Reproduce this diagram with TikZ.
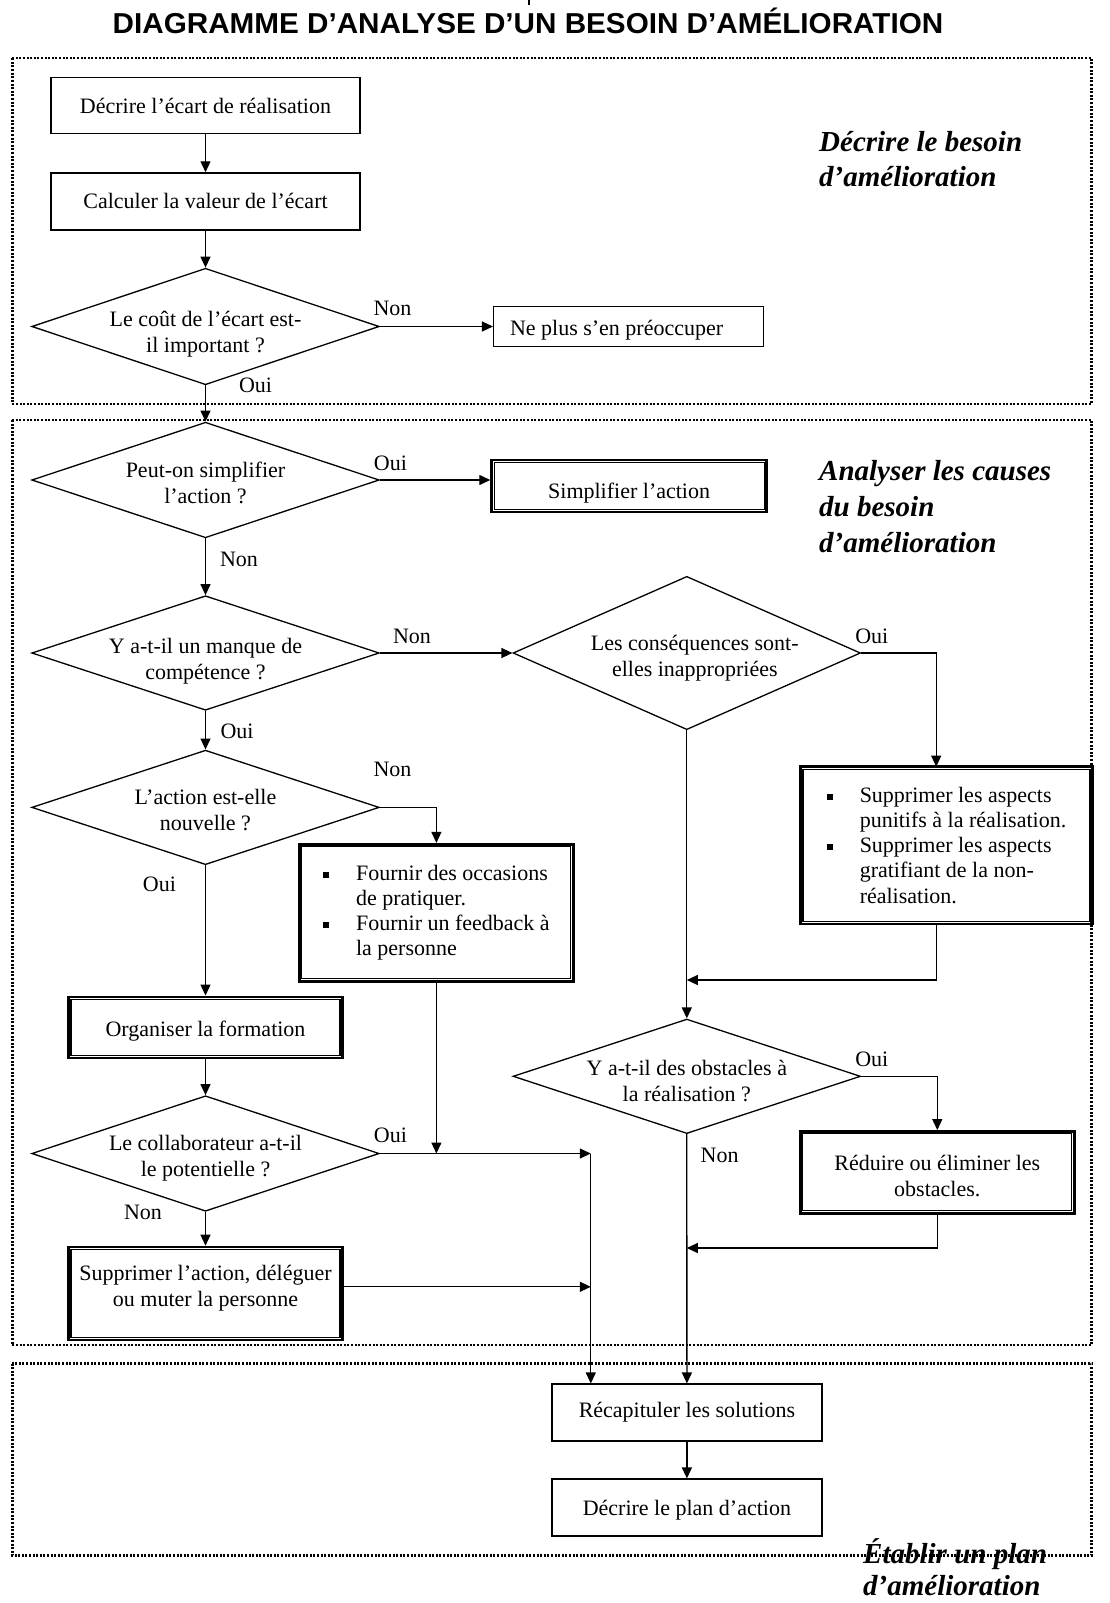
\documentclass[tikz,border=0pt]{standalone}
\usepackage{fontspec}
\setmainfont{Liberation Serif}
\newfontfamily\titlefont{Liberation Sans}
\usetikzlibrary{shapes.geometric,arrows.meta,calc}
\newcommand{\ctxt}[2]{\makebox[0pt]{\smash{\raisebox{#1}{\begin{tabular}{@{}c@{}}#2\end{tabular}}}}}
\newcommand{\bul}{\makebox[33pt][l]{\rule[2.5pt]{6pt}{6pt}}}
\tikzset{
  txt/.style={font=\fontsize{22}{26}\selectfont},
  btxt/.style={font=\fontsize{22}{25.2}\selectfont},
  box/.style={txt, draw, line width=1.3pt, rectangle, inner sep=0pt, align=center},
  dbox/.style={txt, draw, line width=2.6pt, rectangle, inner sep=0pt, align=center},
  dec/.style={txt, draw, line width=1.3pt, diamond, inner sep=0pt, minimum width=347.5pt},
  arr/.style={line width=1.3pt, -{Triangle[length=11pt,width=10pt]}},
  ln/.style={line width=1.3pt},
  lab/.style={txt, inner sep=0pt},
  sect/.style={font=\fontsize{29}{33}\selectfont\bfseries\itshape, inner sep=0pt, anchor=base west},
  frame/.style={line width=2.4pt, dash pattern=on 2pt off 1.6pt},
}
\begin{document}
\begin{tikzpicture}[x=1pt,y=-1pt]
\useasboundingbox (0,0) rectangle (1110,1603);
\fill[white] (0,0) rectangle (1110,1603);

% title
\node[inner sep=0pt, anchor=base] (title) at (528,33.3)
  {\titlefont\bfseries\fontsize{28.8}{30}\selectfont\scalebox{1.03}[1]{DIAGRAMME D’ANALYSE D’UN BESOIN D’AMÉLIORATION}};
\draw[ln] (529,0) -- (529,5);

% frames
\draw[frame] (12.3,58.3) rectangle (1091.6,403.7);
\draw[frame] (12.3,420) rectangle (1091.6,1345);
\draw[frame] (12.3,1363.5) rectangle (1091.6,1555.6);

% section labels
\node[sect] (s1a) at (819,151) {Décrire le besoin};
\node[sect] (s1b) at (819,186) {d’amélioration};
\node[sect] (s2a) at (819,480) {Analyser les causes};
\node[sect] (s2b) at (819,516) {du besoin};
\node[sect] (s2c) at (819,552) {d’amélioration};
\node[sect] (s3a) at (863,1563) {Établir un plan};
\node[sect] (s3b) at (863,1595) {d’amélioration};

% section 1
\node[box, minimum width=309pt, minimum height=56pt] (n1) at (205.5,105.8) {Décrire l’écart de réalisation};
\node[box, minimum width=309pt, minimum height=57pt] (n2) at (205.5,201.4) {Calculer la valeur de l’écart};
\node[dec, minimum height=116.5pt] (d1) at (205.5,326.5) {\ctxt{-13pt}{Le coût de l’écart est-\\il important ?}};
\node[box, minimum width=270pt, minimum height=40pt] (n3) at (628.6,326.8) {\ctxt{-9pt}{\hspace*{-24pt}Ne plus s’en préoccuper}};

% section 2
\node[dec, minimum height=115.6pt] (d2) at (205.5,480) {\ctxt{-10pt}{Peut-on simplifier\\l’action ?}};
\node[dbox, minimum width=275pt, minimum height=52pt] (simp) at (629.1,486) {\ctxt{-12pt}{Simplifier l’action}};
\node[dec, minimum height=114.5pt] (d3) at (205.5,653) {\ctxt{-13pt}{Y a-t-il un manque de\\compétence ?}};
\node[dec, minimum height=153.3pt] (d4) at (686.8,653) {\ctxt{-10pt}{\hspace*{16pt}Les conséquences sont-\\\hspace*{16pt}elles inappropriées}};
\node[dbox, btxt, minimum width=292pt, minimum height=157.5pt, align=left] (supp) at (946.5,845.3)
  {\bul Supprimer les aspects\\\hspace*{33pt}punitifs à la réalisation.\\\bul Supprimer les aspects\\\hspace*{33pt}gratifiant de la non-\\\hspace*{33pt}réalisation.};
\node[dec, minimum height=114.5pt] (d5) at (205.5,807.4) {\ctxt{-10pt}{L’action est-elle\\nouvelle ?}};
\node[dbox, btxt, minimum width=274pt, minimum height=137pt, align=left] (fourn) at (436.4,912.7)
  {\bul Fournir des occasions\\\hspace*{33pt}de pratiquer.\\\bul Fournir un feedback à\\\hspace*{33pt}la personne};
\node[dbox, minimum width=274pt, minimum height=61pt] (org) at (205.5,1027.3) {\ctxt{-9pt}{Organiser la formation}};
\node[dec, minimum height=115.5pt] (d7) at (205.5,1153.5) {\ctxt{-10pt}{Le collaborateur a-t-il\\le potentielle ?}};
\node[dbox, minimum width=274pt, minimum height=93pt] (suppa) at (205.5,1293.5) {\ctxt{0pt}{Supprimer l’action, déléguer\\ou muter la personne}};
\node[dec, minimum height=114.5pt] (d6) at (686.8,1076.3) {\ctxt{-12pt}{Y a-t-il des obstacles à\\la réalisation ?}};
\node[dbox, minimum width=274pt, minimum height=82pt] (red) at (937.3,1172.4) {\ctxt{-11pt}{Réduire ou éliminer les\\obstacles.}};

% section 3
\node[box, minimum width=270pt, minimum height=57pt] (recap) at (686.9,1412.6) {Récapituler les solutions};
\node[box, minimum width=270pt, minimum height=57pt] (plan) at (686.9,1507.6) {\ctxt{-8pt}{Décrire le plan d’action}};

% inner lines of double boxes
\foreach \n in {simp,supp,fourn,org,suppa,red}
  \draw[line width=1.1pt] ([shift={(3.8pt,-3.8pt)}]\n.north west) rectangle ([shift={(-3.8pt,3.8pt)}]\n.south east);

% helper coordinates
\coordinate (c1) at (936.2,766.6);
\coordinate (c2) at (936.2,924);
\coordinate (j1) at (686.8,980);
\coordinate (j2) at (686.8,1248);
\coordinate (j3) at (590.8,1153.5);
\coordinate (j4) at (590.8,1286.8);

% connectors
\draw[arr] (n1.south) -- (n2.north);
\draw[arr] (n2.south) -- (d1.north);
\draw[arr] (d1.east) -- (n3.west |- d1.east);
\draw[arr] (d1.south) -- (d2.north);
\draw[arr] (d2.east) -- (simp.west |- d2.east);
\draw[arr] (d2.south) -- (d3.north);
\draw[arr] (d3.east) -- (d4.west);
\draw[arr] (d4.east) -| (c1);
\draw[arr] (c2) |- (j1);
\draw[arr] (d4.south) -- (d6.north);
\draw[arr] (d6.east) -| (red.north);
\draw[arr] (red.south) |- (j2);
\draw[arr] (d6.south) -- (recap.north);
\draw[arr] (recap.south) -- (plan.north);
\draw[arr] (d3.south) -- (d5.north);
\draw[arr] (d5.east) -| (fourn.north);
\draw[arr] (fourn.south) -- (fourn.south |- d7.east);
\draw[arr] (d5.south) -- (org.north);
\draw[arr] (org.south) -- (d7.north);
\draw[arr] (d7.east) -- (j3);
\draw[arr] (d7.south) -- (suppa.north);
\draw[arr] (suppa.east |- j4) -- (j4);
\draw[arr] (j3) -- (j3 |- recap.north);

% branch labels
\node[lab] (l1) at (392.5,308.7) {Non};
\node[lab] (l2) at (255.5,385.3) {Oui};
\node[lab] (l3) at (390.4,463) {Oui};
\node[lab] (l4) at (239,559) {Non};
\node[lab] (l5) at (412,636) {Non};
\node[lab] (l6) at (871.8,636) {Oui};
\node[lab] (l7) at (237,731.8) {Oui};
\node[lab] (l8) at (392.5,769.6) {Non};
\node[lab] (l9) at (159.4,884) {Oui};
\node[lab] (l10) at (390.4,1135.6) {Oui};
\node[lab] (l11) at (143,1212) {Non};
\node[lab] (l12) at (871.8,1059) {Oui};
\node[lab] (l13) at (719.6,1155) {Non};
\end{tikzpicture}
\end{document}
